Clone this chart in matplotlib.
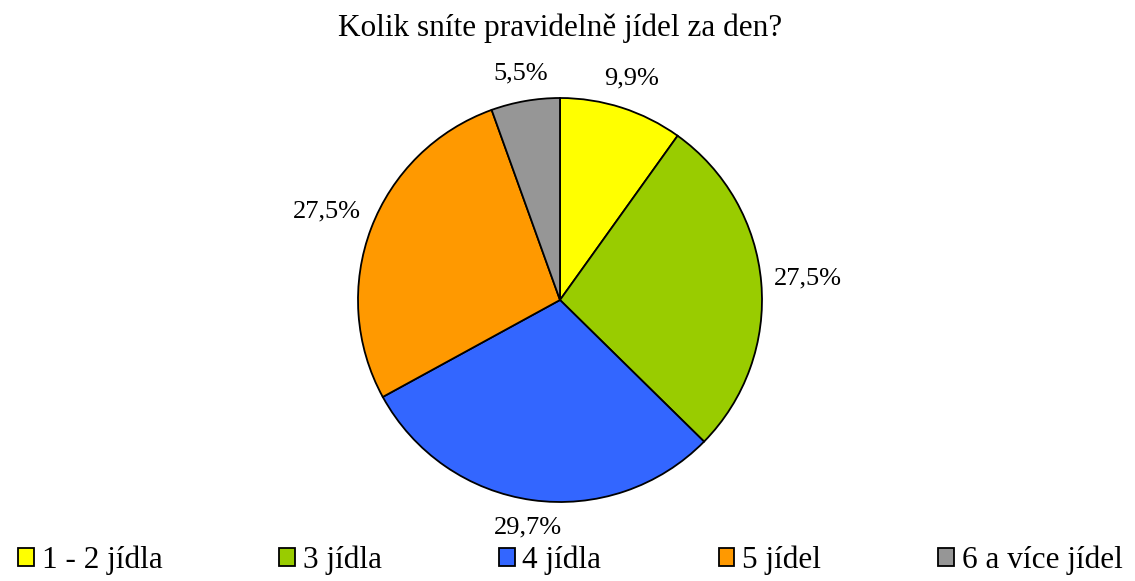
import matplotlib.pyplot as plt
import numpy as np

plt.rcParams['font.family'] = ['Liberation Serif', 'DejaVu Serif']

categories = ['1 - 2 jídla', '3 jídla', '4 jídla', '5 jídel', '6 a více jídel']
values = [9.9, 27.5, 29.7, 27.5, 5.5]
colors = ['#ffff00', '#99cc00', '#3366ff', '#ff9900', '#969696']
title = 'Kolik sníte pravidelně jídel za den?'

fig = plt.figure(figsize=(11.35, 5.81), dpi=100)
W, H = 1135, 581
cx, cy, r = 560, 300, 202
# axes box is square in pixels so the pie is a circle with radius r
ax = fig.add_axes([(cx - 1.3 * r) / W, (H - cy - 1.3 * r) / H, 2.6 * r / W, 2.6 * r / H])

wedges, texts, autotexts = ax.pie(
    values, colors=colors, startangle=90, counterclock=False,
    autopct=lambda p: ('%.1f%%' % p).replace('.', ','),
    pctdistance=1.2,
    wedgeprops=dict(edgecolor='black', linewidth=1.3),
    textprops=dict(fontsize=19),
)
ax.set_xlim(-1.3, 1.3)
ax.set_ylim(-1.3, 1.3)
ax.set_aspect('equal')

# push each label out so its box sits a small gap outside the circle (like Excel)
renderer = fig.canvas.get_renderer()
gap = 12
for w, t in zip(wedges, autotexts):
    ang = np.deg2rad((w.theta1 + w.theta2) / 2)
    bb = t.get_window_extent(renderer)
    d = r + gap + bb.width / 2 * abs(np.cos(ang)) + bb.height / 2 * abs(np.sin(ang))
    t.set_position((d / r * np.cos(ang), d / r * np.sin(ang)))

fig.text(cx / W, 1 - 28 / H, title, ha='center', va='center', fontsize=22.5)

fig.legend(wedges, categories, loc='lower left', ncol=5, mode='expand',
           bbox_to_anchor=(0.005, -0.012, 0.995, 0.06), frameon=False,
           fontsize=22.5, handlelength=0.5, handleheight=0.5, handletextpad=0.25,
           borderaxespad=0)

fig.savefig('out.png', dpi=100)
